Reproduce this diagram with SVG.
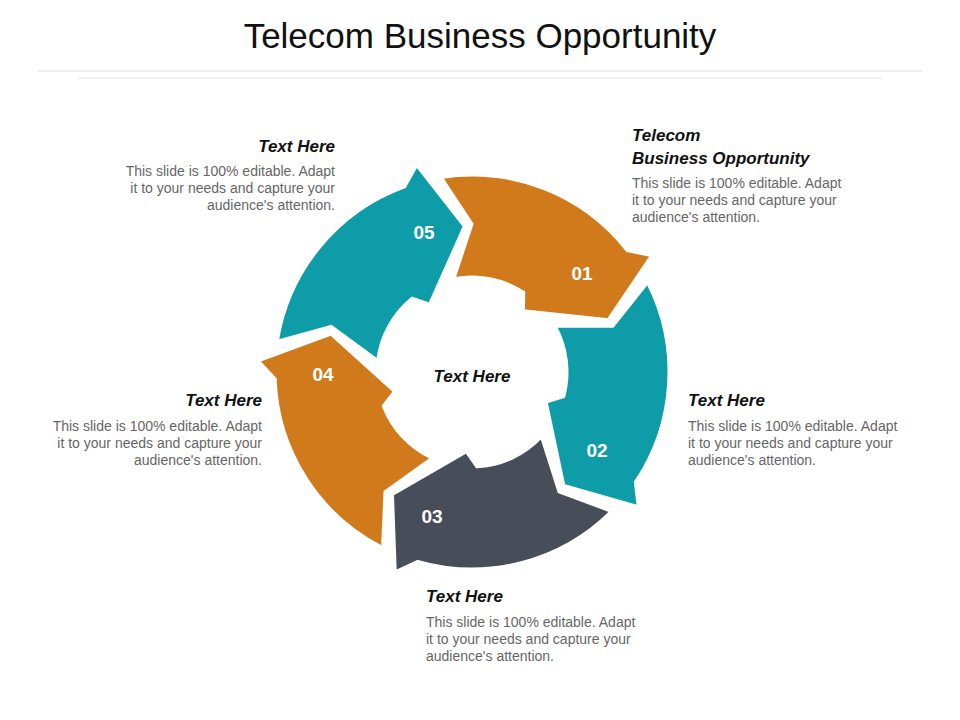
<svg xmlns="http://www.w3.org/2000/svg" width="960" height="720" viewBox="0 0 960 720">
<style>
.seg{stroke:#fff;stroke-width:3;stroke-linejoin:miter}
.num{font-family:"Liberation Sans",Arial,sans-serif;font-weight:bold;font-size:19px;fill:#fff;text-anchor:middle}
.h{font-family:"Liberation Sans",Arial,sans-serif;font-weight:bold;font-style:italic;font-size:17px;fill:#111}
.b{font-family:"Liberation Sans",Arial,sans-serif;font-size:14px;fill:#666}
.e{text-anchor:end}
</style>
<defs>
<path id="arrow" d="M441.2,177.4 A197,197 0 0 1 627.2,250.7 L651.5,255.5 L608.3,319.7 L523.4,310.7 L523.7,292.3 A95,95 0 0 0 453.9,278.7 L472,224 Z"/>
</defs>
<rect width="960" height="720" fill="#fff"/>
<text x="480" y="48" text-anchor="middle" font-family="Liberation Sans,Arial,sans-serif" font-size="35" fill="#111">Telecom Business Opportunity</text>
<line x1="38" y1="71" x2="922" y2="71" stroke="#ddd" stroke-width="1"/>
<line x1="78" y1="78" x2="882" y2="78" stroke="#e4e4e4" stroke-width="1"/>
<g id="connectors"></g>
<g id="node01"><use href="#arrow" class="seg" fill="#D07A1C"/><text class="num" x="582" y="280">01</text></g>
<g id="node02"><use href="#arrow" class="seg" fill="#0E9DA8" transform="rotate(72 472 372)"/><text class="num" x="597" y="457">02</text></g>
<g id="node03"><use href="#arrow" class="seg" fill="#474E59" transform="rotate(144 472 372)"/><text class="num" x="432" y="523">03</text></g>
<g id="node04"><use href="#arrow" class="seg" fill="#D07A1C" transform="rotate(216 472 372)"/><text class="num" x="323" y="381">04</text></g>
<g id="node05"><use href="#arrow" class="seg" fill="#0E9DA8" transform="rotate(288 472 372)"/><text class="num" x="424" y="239">05</text></g>
<g id="center"><text class="h" x="472" y="382" text-anchor="middle" font-size="19">Text Here</text></g>
<g id="t1"><text class="h" x="632" y="141">Telecom</text><text class="h" x="632" y="164">Business Opportunity</text>
<text class="b" x="632" y="188">This slide is 100% editable. Adapt</text><text class="b" x="632" y="205">it to your needs and capture your</text><text class="b" x="632" y="222">audience's attention.</text></g>
<g id="t2"><text class="h" x="688" y="406">Text Here</text>
<text class="b" x="688" y="431">This slide is 100% editable. Adapt</text><text class="b" x="688" y="448">it to your needs and capture your</text><text class="b" x="688" y="465">audience's attention.</text></g>
<g id="t3"><text class="h" x="426" y="602">Text Here</text>
<text class="b" x="426" y="627">This slide is 100% editable. Adapt</text><text class="b" x="426" y="644">it to your needs and capture your</text><text class="b" x="426" y="661">audience's attention.</text></g>
<g id="t4"><text class="h e" x="262" y="406">Text Here</text>
<text class="b e" x="262" y="431">This slide is 100% editable. Adapt</text><text class="b e" x="262" y="448">it to your needs and capture your</text><text class="b e" x="262" y="465">audience's attention.</text></g>
<g id="t5"><text class="h e" x="335" y="152">Text Here</text>
<text class="b e" x="335" y="176">This slide is 100% editable. Adapt</text><text class="b e" x="335" y="193">it to your needs and capture your</text><text class="b e" x="335" y="210">audience's attention.</text></g>
</svg>
